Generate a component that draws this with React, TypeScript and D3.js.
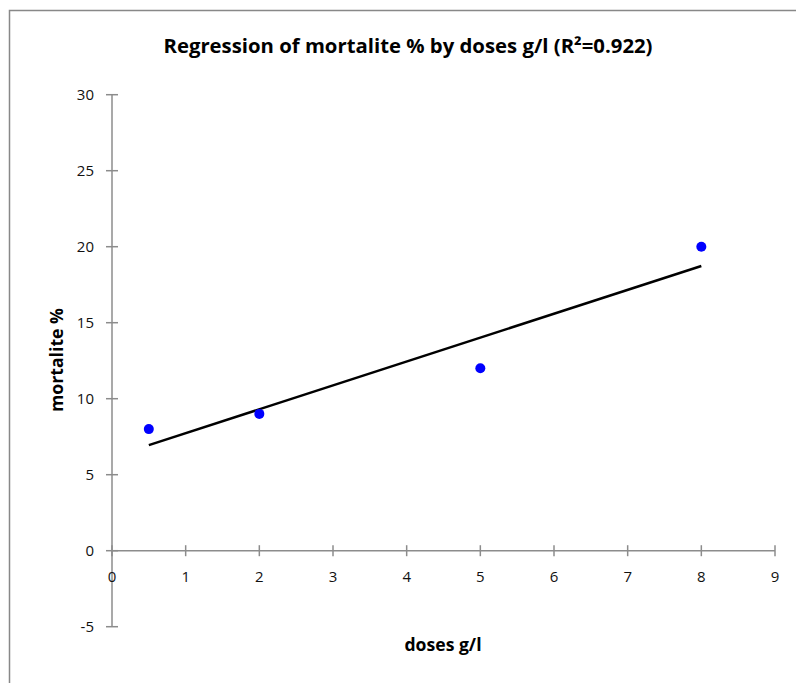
import React, { useEffect, useRef } from "react";
import * as d3 from "d3";

// observed values
const doses = [0.5, 2, 5, 8];
const mortality = [8, 9, 12, 20];
const xTicks = [0, 1, 2, 3, 4, 5, 6, 7, 8, 9];
const yTicks = [-5, 0, 5, 10, 15, 20, 25, 30];

const App = () => {
  const svgRef = useRef<SVGSVGElement>(null);

  useEffect(() => {
    const width = 796;
    const height = 683;
    const svg = d3.select(svgRef.current);
    svg.selectAll("*").remove();

    const font = "'Open Sans', sans-serif";
    const axisColor = "#8c8c8c";

    // chart border (right/bottom edges fall outside the picture)
    svg
      .append("rect")
      .attr("x", 9.5)
      .attr("y", 10.5)
      .attr("width", width + 20)
      .attr("height", height + 20)
      .attr("fill", "white")
      .attr("stroke", "#888")
      .attr("stroke-width", 1.5);

    const x = d3.scaleLinear().domain([0, 9]).range([112, 775]);
    const y = d3.scaleLinear().domain([-5, 30]).range([626.7, 94.7]);

    // least squares fit
    const mx = d3.mean(doses)!;
    const my = d3.mean(mortality)!;
    const sxy = d3.sum(doses, (d, i) => (d - mx) * (mortality[i] - my));
    const sxx = d3.sum(doses, d => (d - mx) ** 2);
    const slope = sxy / sxx;
    const intercept = my - slope * mx;
    const xExt = d3.extent(doses) as [number, number];

    // y axis at x = 0
    const gy = svg.append("g");
    gy.append("line")
      .attr("x1", x(0)).attr("x2", x(0))
      .attr("y1", y(-5)).attr("y2", y(30))
      .attr("stroke", axisColor).attr("stroke-width", 1.5);
    gy.selectAll("line.tick")
      .data(yTicks)
      .enter()
      .append("line")
      .attr("class", "tick")
      .attr("x1", x(0) - 6).attr("x2", x(0) + 6)
      .attr("y1", d => y(d)).attr("y2", d => y(d))
      .attr("stroke", axisColor).attr("stroke-width", 1.5);
    gy.selectAll("text")
      .data(yTicks)
      .enter()
      .append("text")
      .attr("x", 94)
      .attr("y", d => y(d) + 5.5)
      .attr("text-anchor", "end")
      .style("font-family", font)
      .style("font-size", "15px")
      .style("fill", "#111")
      .text(d => d);

    // x axis at y = 0
    const gx = svg.append("g");
    gx.append("line")
      .attr("x1", x(0)).attr("x2", x(9))
      .attr("y1", y(0)).attr("y2", y(0))
      .attr("stroke", axisColor).attr("stroke-width", 1.5);
    gx.selectAll("line.tick")
      .data(xTicks)
      .enter()
      .append("line")
      .attr("class", "tick")
      .attr("x1", d => x(d)).attr("x2", d => x(d))
      .attr("y1", y(0) - 5.5).attr("y2", y(0) + 5.5)
      .attr("stroke", axisColor).attr("stroke-width", 1.5);
    gx.selectAll("text")
      .data(xTicks)
      .enter()
      .append("text")
      .attr("x", d => x(d))
      .attr("y", y(0) + 31)
      .attr("text-anchor", "middle")
      .style("font-family", font)
      .style("font-size", "15px")
      .style("fill", "#111")
      .text(d => d);

    // regression line
    svg
      .append("line")
      .attr("x1", x(xExt[0]))
      .attr("y1", y(intercept + slope * xExt[0]))
      .attr("x2", x(xExt[1]))
      .attr("y2", y(intercept + slope * xExt[1]))
      .attr("stroke", "black")
      .attr("stroke-width", 2.5);

    // points
    svg
      .selectAll("circle")
      .data(doses)
      .enter()
      .append("circle")
      .attr("cx", d => x(d))
      .attr("cy", (d, i) => y(mortality[i]))
      .attr("r", 5)
      .attr("fill", "#0000ff");

    // titles
    svg
      .append("text")
      .attr("x", 408)
      .attr("y", 53)
      .attr("text-anchor", "middle")
      .attr("textLength", 489)
      .attr("lengthAdjust", "spacingAndGlyphs")
      .style("font-family", font)
      .style("font-size", "20px")
      .style("font-weight", 700)
      .text("Regression of mortalite % by doses g/l (R²=0.922)");

    svg
      .append("text")
      .attr("x", 443)
      .attr("y", 651)
      .attr("text-anchor", "middle")
      .attr("textLength", 77)
      .attr("lengthAdjust", "spacingAndGlyphs")
      .style("font-family", font)
      .style("font-size", "18px")
      .style("font-weight", 700)
      .text("doses g/l");

    svg
      .append("text")
      .attr("transform", "translate(63, 360) rotate(-90)")
      .attr("text-anchor", "middle")
      .attr("textLength", 104)
      .attr("lengthAdjust", "spacingAndGlyphs")
      .style("font-family", font)
      .style("font-size", "18px")
      .style("font-weight", 700)
      .text("mortalite %");
  }, []);

  return (
    <svg
      ref={svgRef}
      width={796}
      height={683}
      style={{ position: "absolute", left: 0, top: 0, display: "block" }}
    />
  );
};

export default App;
